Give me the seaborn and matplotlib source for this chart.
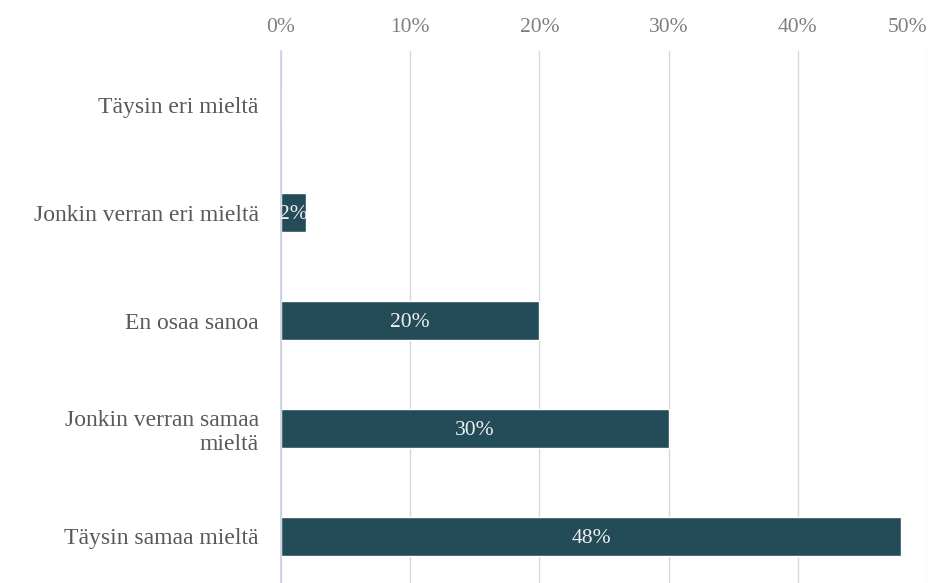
import matplotlib
matplotlib.use("Agg")
import matplotlib.pyplot as plt
import seaborn as sns
import pandas as pd

categories = ["Täysin eri mieltä", "Jonkin verran eri mieltä", "En osaa sanoa",
              "Jonkin verran samaa\nmieltä", "Täysin samaa mieltä"]
values = [0.0, 0.019, 0.20, 0.30, 0.48]
labels = ["", "2%", "20%", "30%", "48%"]
ticks = [0, 0.1, 0.2, 0.3, 0.4, 0.5]
tick_labels = ["0%", "10%", "20%", "30%", "40%", "50%"]

sns.set_theme(style="white")
plt.rcParams['font.family'] = ['Liberation Serif', 'DejaVu Serif']

df = pd.DataFrame({"cat": categories, "val": values})
fig = plt.figure(figsize=(9.29, 5.83), dpi=100)
ax = fig.add_axes([281/929, 0, (927-281)/929, 1-51/583])
sns.barplot(data=df, y="cat", x="val", orient="h", color="#234b58",
            width=0.36, ax=ax, saturation=1)
ax.set_xlim(0, 0.5)
ax.set_ylim(4.435, -0.5)
ax.xaxis.tick_top()
ax.set_xticks(ticks)
ax.set_xticklabels(tick_labels, color="#7f7f7f", fontsize=15.5)
ax.get_xticklabels()[-1].set_horizontalalignment("right")
ax.tick_params(axis="x", length=0, pad=10)
ax.tick_params(axis="y", length=0, pad=16, labelsize=17, labelcolor="#595959")
for lbl in ax.get_yticklabels():
    lbl.set_horizontalalignment("right")
    lbl.set_linespacing(1.2)
ax.set_xlabel("")
ax.set_ylabel("")
ax.grid(axis="x", color="#d9d9d9", linewidth=1)
ax.set_axisbelow(True)
for s in ["top", "right", "bottom"]:
    ax.spines[s].set_visible(False)
ax.spines["left"].set_color("#c5d0e6")
ax.spines["left"].set_linewidth(1.2)
bars = list(ax.patches)
for i, (v, t) in enumerate(zip(values, labels)):
    if t:
        txt = ax.text(v/2, i + 0.02, t, ha="center", va="center",
                      color="#f0f0f0", fontsize=15.5, clip_on=True)
        txt.set_clip_path(bars[i])
fig.savefig("out.png", dpi=100)
